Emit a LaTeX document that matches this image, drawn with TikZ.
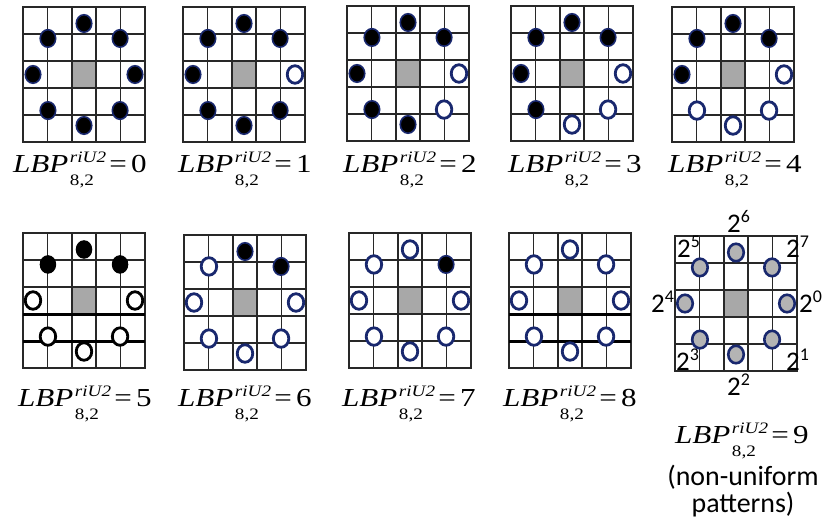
\documentclass[tikz,border=0pt]{standalone}
\usepackage{fontspec}
\setmainfont{Liberation Serif}[FakeStretch=1.2]
\newfontfamily\calib{Carlito}
\usetikzlibrary{shapes.geometric}
\definecolor{dotblue}{RGB}{25,40,110}
\definecolor{cellgray}{RGB}{168,168,168}
\definecolor{gridcol}{RGB}{40,40,40}
\definecolor{pgray}{RGB}{180,180,180}
\tikzset{
 gridline/.style={draw=gridcol, line width=1.6bp, line cap=rect},
 thickline/.style={draw=black, line width=3bp},
 dotbase/.style={ellipse, inner sep=0pt, minimum width=15.5bp, minimum height=17.5bp},
 fd/.style={dotbase, fill=black, draw=dotblue, line width=1.6bp},
 od/.style={dotbase, fill=white, draw=dotblue, line width=2.8bp},
 bfd/.style={dotbase, fill=black, draw=black, line width=1bp},
 bod/.style={dotbase, fill=white, draw=black, line width=2.8bp},
 gd/.style={dotbase, fill=pgray, draw=dotblue, line width=2.6bp},
 lbl/.style={anchor=base west, inner sep=0pt},
 pwlab/.style={anchor=base west, inner sep=0pt, font=\calib\fontsize{27}{27}\selectfont},
 note/.style={anchor=base, inner sep=0pt, font=\calib\fontsize{28}{28}\selectfont},
}
\newcommand\lbppanel[5]{%
 \begin{scope}[shift={(#2,#3)}]
  \fill[cellgray] (48.8,54) rectangle (73.2,81);
  \foreach \i in {0,...,5}{
    \draw[gridline] ({\i*24.4},0) -- ({\i*24.4},135);
    \draw[gridline] (0,{\i*27}) -- (122,{\i*27});
  }
  #5
  \coordinate (#1) at (61,67.5);
  \foreach \k/\s in {#4}{
    \node[\s] (#1-d\k) at ({61+51*cos(45*\k)},{67.5+51*sin(45*\k)}) {};
  }
 \end{scope}}
\newcommand\lbpthick{\draw[thickline] (0,81) -- (122,81); \draw[thickline] (0,108) -- (122,108);}
\newcommand\lbplab[1]{\fontsize{26}{26}\selectfont\itshape LBP\hspace{1.5bp}\rlap{\raisebox{-13bp}{\fontsize{16}{16}\selectfont\upshape 8,2}}\raisebox{10bp}{\fontsize{16}{16}\selectfont riU2}\hspace{-1bp}\upshape\,=\,#1}
\newcommand\pwr[1]{2\raisebox{10bp}{\fontsize{18}{18}\selectfont #1}}
\begin{document}
\begin{tikzpicture}[x=1bp, y=-1bp]
\useasboundingbox (0,0) rectangle (825,521);
% top row
\lbppanel{g0}{23}{7}{0/fd,1/fd,2/fd,3/fd,4/fd,5/fd,6/fd,7/fd}{}
\lbppanel{g1}{183}{7}{0/od,1/fd,2/fd,3/fd,4/fd,5/fd,6/fd,7/fd}{}
\lbppanel{g2}{347}{6}{0/od,1/od,2/fd,3/fd,4/fd,5/fd,6/fd,7/fd}{}
\lbppanel{g3}{511}{6}{0/od,1/od,2/od,3/fd,4/fd,5/fd,6/fd,7/fd}{}
\lbppanel{g4}{672}{7}{0/od,1/od,2/od,3/od,4/fd,5/fd,6/fd,7/fd}{}
% bottom row
\lbppanel{g5}{23}{233}{0/bod,1/bod,2/bod,3/bod,4/bod,5/bfd,6/bfd,7/bfd}{\lbpthick}
\lbppanel{g6}{184}{235}{0/od,1/od,2/od,3/od,4/od,5/od,6/fd,7/fd}{}
\lbppanel{g7}{349}{233}{0/od,1/od,2/od,3/od,4/od,5/od,6/od,7/fd}{}
\lbppanel{g8}{509}{233}{0/od,1/od,2/od,3/od,4/od,5/od,6/od,7/od}{\lbpthick}
\lbppanel{g9}{675}{236}{0/gd,1/gd,2/gd,3/gd,4/gd,5/gd,6/gd,7/gd}{}
% labels
\node[lbl] (l0) at (13,173) {\lbplab{0}};
\node[lbl] (l1) at (178,173) {\lbplab{1}};
\node[lbl] (l2) at (343,173) {\lbplab{2}};
\node[lbl] (l3) at (508,173) {\lbplab{3}};
\node[lbl] (l4) at (668,173) {\lbplab{4}};
\node[lbl] (l5) at (18,406) {\lbplab{5}};
\node[lbl] (l6) at (178,406) {\lbplab{6}};
\node[lbl] (l7) at (342,406) {\lbplab{7}};
\node[lbl] (l8) at (503,406) {\lbplab{8}};
\node[lbl] (l9) at (675,443) {\lbplab{9}};
\node[note] (n1) at (743,485) {(non-uniform};
\node[note] (n2) at (743,512) {patterns)};
% powers of two
\node[pwlab] (p6) at (727,233) {\pwr{6}};
\node[pwlab] (p5) at (677,258) {\pwr{5}};
\node[pwlab] (p7) at (786,258) {\pwr{7}};
\node[pwlab] (p4) at (651,313) {\pwr{4}};
\node[pwlab] (p0) at (799,313) {\pwr{0}};
\node[pwlab] (p3) at (676,370) {\pwr{3}};
\node[pwlab] (p1) at (786,370) {\pwr{1}};
\node[pwlab] (p2) at (727,395) {\pwr{2}};
\end{tikzpicture}
\end{document}
